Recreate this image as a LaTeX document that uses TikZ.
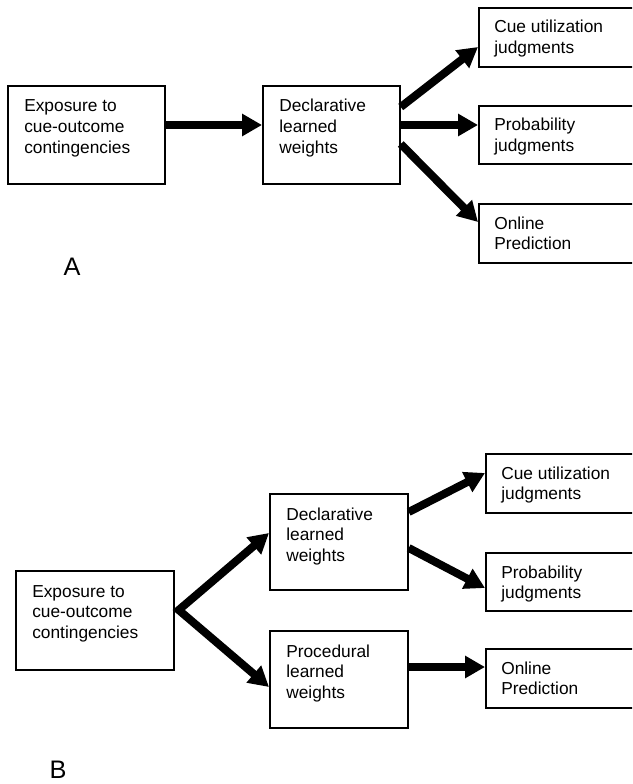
\documentclass[tikz,border=0pt]{standalone}
\usepackage{fontspec}
\setmainfont{Liberation Sans}
\usetikzlibrary{arrows.meta,calc}
\newcommand{\boxtxt}[1]{\parbox[t]{200pt}{\raggedright\fontsize{13}{15.4}\selectfont #1}}
\begin{document}
\begin{tikzpicture}[x=0.75pt,y=-0.75pt,
  blk/.style={draw=black,line width=1.3pt,inner sep=0pt,anchor=north west},
  txt/.style={inner sep=0pt,anchor=base west},
  flow/.style={line width=6pt,-{Triangle[length=15pt,width=16pt]}},
  fork/.style={line width=6pt,line join=miter,{Triangle[length=15pt,width=16pt]}-{Triangle[length=15pt,width=16pt]}},
  panel/.style={inner sep=0pt,font=\fontsize{19}{22}\selectfont}]
\useasboundingbox (0,0) rectangle (632,784);
\clip (0,0) rectangle (632,784);
\fill[white] (0,0) rectangle (632,784);
% ---------- Panel A ----------
\node[blk,minimum width=117.75pt,minimum height=73.5pt] (a1) at (7,85) {};
\node[blk,minimum width=102.75pt,minimum height=73.5pt] (a2) at (262,85) {};
\node[blk,minimum width=180pt,minimum height=44.25pt] (a3) at (478,7) {};
\node[blk,minimum width=180pt,minimum height=43.5pt] (a4) at (478,105) {};
\node[blk,minimum width=180pt,minimum height=44.25pt] (a5) at (478,203) {};
\node[txt] (a1t) at ($(a1.north west)+(17,27)$) {\boxtxt{Exposure to\\cue-outcome\\contingencies}};
\node[txt] (a2t) at ($(a2.north west)+(17,27)$) {\boxtxt{Declarative\\learned\\weights}};
\node[txt] (a3t) at ($(a3.north west)+(16,26)$) {\boxtxt{Cue utilization\\judgments}};
\node[txt] (a4t) at ($(a4.north west)+(16,26)$) {\boxtxt{Probability\\judgments}};
\node[txt] (a5t) at ($(a5.north west)+(16,26)$) {\boxtxt{Online\\Prediction}};
\node[panel] (la) at (72,267) {A};
\draw[flow] ($(a1.north east)+(0,40)$) -- ($(a2.north west)+(0,40)$);
\draw[flow] ($(a2.north east)+(0,22)$) -- ($(a3.north west)+(0,40)$);
\draw[flow] ($(a2.north east)+(0,40)$) -- ($(a4.north west)+(0,20)$);
\draw[flow] ($(a2.north east)+(0,59)$) -- ($(a5.north west)+(0,19)$);
% ---------- Panel B ----------
\node[blk,minimum width=118.5pt,minimum height=74.25pt] (b1) at (15,570) {};
\node[blk,minimum width=103.5pt,minimum height=72pt] (b2) at (269,493) {};
\node[blk,minimum width=103.5pt,minimum height=72.75pt] (b3) at (269,630) {};
\node[blk,minimum width=180pt,minimum height=44.25pt] (b4) at (485,453) {};
\node[blk,minimum width=180pt,minimum height=43.5pt] (b5) at (485,552) {};
\node[blk,minimum width=180pt,minimum height=44.25pt] (b6) at (485,648) {};
\node[txt] (b1t) at ($(b1.north west)+(17,27)$) {\boxtxt{Exposure to\\cue-outcome\\contingencies}};
\node[txt] (b2t) at ($(b2.north west)+(17,27)$) {\boxtxt{Declarative\\learned\\weights}};
\node[txt] (b3t) at ($(b3.north west)+(17,27)$) {\boxtxt{Procedural\\learned\\weights}};
\node[txt] (b4t) at ($(b4.north west)+(16,26)$) {\boxtxt{Cue utilization\\judgments}};
\node[txt] (b5t) at ($(b5.north west)+(16,26)$) {\boxtxt{Probability\\judgments}};
\node[txt] (b6t) at ($(b6.north west)+(16,26)$) {\boxtxt{Online\\Prediction}};
\node[panel] (lb) at (58,770) {B};
\coordinate (bj) at ($(b1.north east)+(4,40)$);
\draw[fork] ($(b2.north west)+(0,40)$) -- (bj) -- ($(b3.north west)+(0,57)$);
\draw[flow] ($(b2.north east)+(0,19)$) -- ($(b4.north west)+(0,20)$);
\draw[flow] ($(b2.north east)+(0,55)$) -- ($(b5.north west)+(0,36)$);
\draw[flow] ($(b3.north east)+(0,37)$) -- ($(b6.north west)+(0,19)$);
\end{tikzpicture}
\end{document}
